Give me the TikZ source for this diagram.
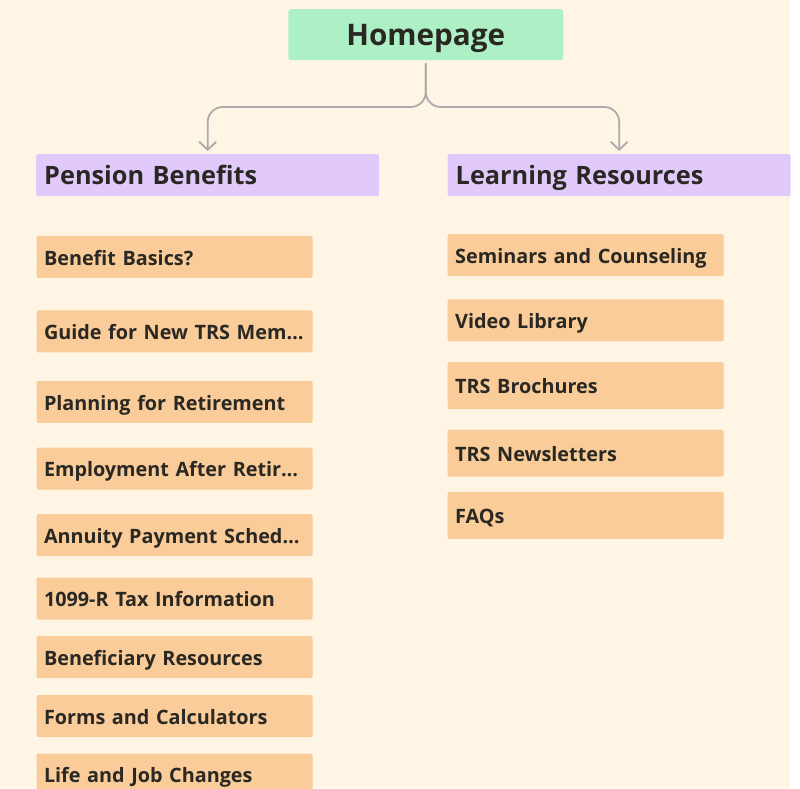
\documentclass[tikz,border=0pt]{standalone}
\usepackage{fontspec}
\setmainfont{Open Sans}
\usetikzlibrary{arrows.meta}
\definecolor{bgc}{HTML}{FEF5E5}
\definecolor{homeg}{HTML}{ADF0C6}
\definecolor{lav}{HTML}{E1CAFB}
\definecolor{peach}{HTML}{F9CC99}
\definecolor{ink}{HTML}{2A2823}
\definecolor{connc}{HTML}{ABABAB}
\begin{document}
\begin{tikzpicture}[x=1pt,y=1pt,
  homebox/.style={fill=homeg, rounded corners=3pt, minimum width=275pt, minimum height=51pt,
    inner sep=0pt, text=ink, text height=26pt, text depth=3.4pt, font=\fontsize{29.7}{34}\selectfont\bfseries},
  headbox/.style={fill=lav, rounded corners=2pt, anchor=north west, text width=327pt, inner xsep=8pt,
    inner ysep=0pt, minimum height=42pt, align=left, text=ink, text height=22pt, text depth=3.4pt,
    font=\fontsize{25.3}{29}\selectfont\bfseries},
  itembox/.style={fill=peach, rounded corners=2pt, anchor=north west, text width=261pt, inner xsep=7.5pt,
    inner ysep=0pt, minimum height=42pt, align=left, text=ink, text height=20pt, text depth=3.4pt,
    font=\fontsize{19.8}{24}\selectfont\bfseries},
  tallbox/.style={itembox, minimum height=47pt},
  connline/.style={draw=connc, line width=1.8pt, rounded corners=15pt,
    -{Straight Barb[length=8pt,width=17pt,line width=1.8pt]}}
]
\useasboundingbox (0,0) rectangle (800,788);
\fill[white] (0,0) rectangle (800,788);
\fill[bgc] (0,0) rectangle (790,788);

\node[homebox] (home) at (425.8,753.3) {Homepage};

\node[headbox] (pen) at (36,634) {Pension Benefits};
\node[headbox] (learn) at (447.5,634) {Learning Resources};

\draw[connline] ([yshift=-3pt]home.south) |- ([yshift=47pt]pen.north) -- ([yshift=3pt]pen.north);
\draw[connline] ([yshift=-3pt]home.south) |- ([yshift=47pt]learn.north) -- ([yshift=3pt]learn.north);

\node[itembox] (p1) at (36.3,552.3) {\mbox{Benefit Basics?}};
\node[itembox] (p2) at (36.3,477.7) {\mbox{Guide for New TRS Mem…}};
\node[itembox] (p3) at (36.3,407.3) {\mbox{Planning for Retirement}};
\node[itembox] (p4) at (36.3,340.7) {\mbox{Employment After Retir…}};
\node[itembox] (p5) at (36.3,274) {\mbox{Annuity Payment Sched…}};
\node[itembox] (p6) at (36.3,210.7) {\mbox{1099-R Tax Information}};
\node[itembox] (p7) at (36.3,152) {\mbox{Beneficiary Resources}};
\node[itembox] (p8) at (36.3,93) {\mbox{Forms and Calculators}};
\node[itembox] (p9) at (36.3,34.7) {\mbox{Life and Job Changes}};

\node[itembox] (l1) at (447.5,554) {\mbox{Seminars and Counseling}};
\node[itembox] (l2) at (447.5,488.7) {\mbox{Video Library}};
\node[tallbox] (l3) at (447.5,426) {\mbox{TRS Brochures}};
\node[tallbox] (l4) at (447.5,358.7) {\mbox{TRS Newsletters}};
\node[tallbox] (l5) at (447.5,296.3) {\mbox{FAQs}};
\end{tikzpicture}
\end{document}
